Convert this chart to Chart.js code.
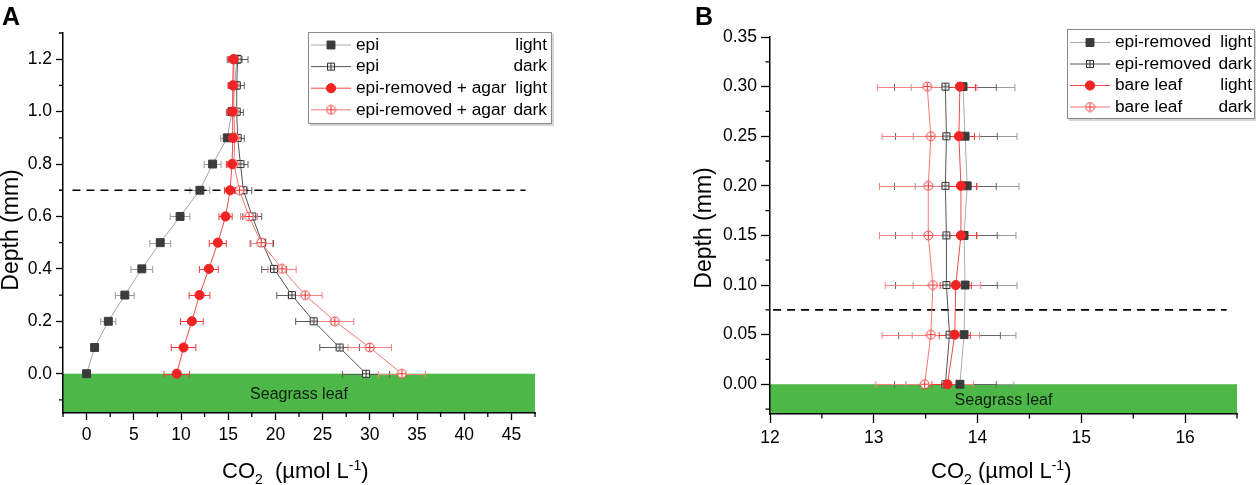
<!DOCTYPE html>
<html>
<head>
<meta charset="utf-8">
<script src="https://cdn.jsdelivr.net/npm/chart.js@4.4.0/dist/chart.umd.min.js"></script>
<style>
  html, body { margin: 0; padding: 0; background: #fff; }
  body { width: 1256px; height: 485px; position: relative; overflow: hidden; }
  canvas { position: absolute; top: 0; }
  #chartA { left: 0; }
  #chartB { left: 690px; }
</style>
</head>
<body>
<canvas id="chartA" width="560" height="485"></canvas>
<canvas id="chartB" width="566" height="485"></canvas>
<script>
// ─────────────────────────────────────────────
//  DATA
// ─────────────────────────────────────────────

// Panel A – depth above the leaf surface (mm)
const depthA        = [0, 0.1, 0.2, 0.3, 0.4, 0.5, 0.6, 0.7, 0.8, 0.9, 1.0, 1.1, 1.2];
const epiLight      = [0.0, 0.85, 2.3, 4.05, 5.85, 7.8, 9.9, 12.0, 13.35, 14.9, 15.4, 15.7, 15.9];
const epiLightErr   = [0.2, 0.3, 0.8, 1.0, 1.15, 1.1, 1.05, 1.05, 0.9, 0.7, 0.6, 0.6, 0.6];
const epiDark       = [29.6, 26.8, 24.05, 21.75, 19.85, 18.6, 17.55, 16.6, 16.3, 16.0, 15.9, 15.9, 16.0];
const epiDarkErr    = [2.5, 2.1, 1.9, 1.6, 1.3, 1.2, 1.0, 0.9, 0.8, 0.7, 0.7, 0.8, 1.1];
const agarLight     = [9.55, 10.27, 11.15, 11.96, 12.95, 13.9, 14.72, 15.2, 15.4, 15.5, 15.45, 15.5, 15.55];
const agarLightErr  = [1.35, 1.3, 1.2, 1.1, 1.0, 0.9, 0.7, 0.6, 0.6, 0.6, 0.6, 0.5, 0.5];
const agarDark      = [33.4, 30.0, 26.3, 23.15, 20.7, 18.5, 17.2, 16.2, 15.6, 15.7, 15.6, 15.6, 15.6];
const agarDarkErr   = [2.5, 2.3, 2.0, 1.8, 1.5, 1.2, 0.9, 0.8, 0.7, 0.6, 0.6, 0.6, 0.6];
const boundaryA     = 0.7;
const boundaryXA    = [-1.5, 46.5];
const xTicksA       = [0, 5, 10, 15, 20, 25, 30, 35, 40, 45];
const xMinorA       = [-2.5, 2.5, 7.5, 12.5, 17.5, 22.5, 27.5, 32.5, 37.5, 42.5, 47.5];
const yTicksA       = [0, 0.2, 0.4, 0.6, 0.8, 1.0, 1.2];
const yMinorA       = [-0.1, 0.1, 0.3, 0.5, 0.7, 0.9, 1.1, 1.3];
const legendNamesA  = ['epi', 'epi', 'epi-removed + agar', 'epi-removed + agar'];
const legendStatesA = ['light', 'dark', 'light', 'dark'];

// Panel B – depth above the leaf surface (mm)
const depthB        = [0, 0.05, 0.10, 0.15, 0.20, 0.25, 0.30];
const remLight      = [13.83, 13.87, 13.88, 13.87, 13.90, 13.88, 13.86];
const remLightErr   = [0.52, 0.5, 0.5, 0.5, 0.5, 0.5, 0.5];
const remDark       = [13.69, 13.73, 13.70, 13.70, 13.69, 13.70, 13.69];
const remDarkErr    = [0.49, 0.49, 0.49, 0.49, 0.49, 0.49, 0.49];
const bareLight     = [13.71, 13.78, 13.79, 13.84, 13.84, 13.82, 13.83];
const bareLightErr  = [0.15, 0.15, 0.15, 0.15, 0.15, 0.15, 0.15];
const bareDark      = [13.49, 13.55, 13.57, 13.525, 13.525, 13.55, 13.515];
const bareDarkErr   = [0.47, 0.47, 0.46, 0.47, 0.47, 0.47, 0.48];
const boundaryB     = 0.075;
const boundaryXB    = [12.03, 16.4];
const xTicksB       = [12, 13, 14, 15, 16];
const xMinorB       = [12.5, 13.5, 14.5, 15.5, 16.5];
const yTicksB       = [0, 0.05, 0.10, 0.15, 0.20, 0.25, 0.30, 0.35];
const yMinorB       = [-0.025, 0.025, 0.075, 0.125, 0.175, 0.225, 0.275, 0.325];
const legendNamesB  = ['epi-removed', 'epi-removed', 'bare leaf', 'bare leaf'];
const legendStatesB = ['light', 'dark', 'light', 'dark'];

// ─────────────────────────────────────────────
//  STYLE HELPERS
// ─────────────────────────────────────────────

const FONT       = '"Liberation Sans", Arial, Helvetica, sans-serif';
const LEAF_GREEN = '#4db848';
const GREY_DARK  = '#3b3b3b';
const RED        = '#f02424';

// open square / circle with a "+" inside (Origin style markers)
function crossMarker(shape, color) {
  const c = document.createElement('canvas');
  c.width = c.height = shape === 'square' ? 10 : 11;
  const g = c.getContext('2d');
  const m = c.width / 2;
  g.strokeStyle = color;
  g.fillStyle = '#fff';
  g.lineWidth = 1;
  g.beginPath();
  if (shape === 'square') g.rect(1.5, 1.5, 7, 7);
  else g.arc(m, m, 4.4, 0, Math.PI * 2);
  g.fill();
  g.stroke();
  g.beginPath();
  g.moveTo(m, 2); g.lineTo(m, c.height - 2);
  g.moveTo(2, m); g.lineTo(c.width - 2, m);
  g.stroke();
  return c;
}

function pts(xs, ys) { return xs.map((v, i) => ({ x: v, y: ys[i] })); }

function series(label, xs, ys, errs, st) {
  return {
    label,
    data: pts(xs, ys),
    errors: errs,
    errorColor: st.err,
    showLine: true,
    tension: 0,
    borderColor: st.line,
    borderWidth: 1,
    pointStyle: st.marker,
    pointRadius: st.radius,
    pointBackgroundColor: st.fill,
    pointBorderColor: st.stroke,
    pointBorderWidth: 1,
    order: st.order
  };
}

function boundary(xs, yv) {
  return {
    label: 'boundary',
    data: xs.map(v => ({ x: v, y: yv })),
    showLine: true,
    borderColor: '#000',
    borderWidth: 1.7,
    borderDash: [8, 6],
    pointRadius: 0,
    order: 10
  };
}

function axisX(min, max, ticks, fmt, tickLen, pad, height) {
  return {
    type: 'linear', position: 'bottom', min, max,
    afterBuildTicks: s => { s.ticks = ticks.map(v => ({ value: v })); },
    afterFit: s => { s.height = height; },
    grid: { display: true, drawOnChartArea: false, drawTicks: true, tickLength: tickLen, tickColor: '#000', tickWidth: 1.3 },
    border: { display: true, color: '#000', width: 1.5 },
    ticks: { color: '#000', padding: pad, maxRotation: 0, autoSkip: false, font: { family: FONT, size: 17.5 }, callback: fmt }
  };
}

function axisY(min, max, ticks, fmt, tickLen, pad, width) {
  return {
    type: 'linear', position: 'left', min, max,
    afterBuildTicks: s => { s.ticks = ticks.map(v => ({ value: v })); },
    afterFit: s => { s.width = width; },
    grid: { display: true, drawOnChartArea: false, drawTicks: true, tickLength: tickLen, tickColor: '#000', tickWidth: 1.3 },
    border: { display: true, color: '#000', width: 1.5 },
    ticks: { color: '#000', padding: pad, autoSkip: false, font: { family: FONT, size: 17.5 }, callback: fmt }
  };
}

// leaf band, error bars, minor ticks, titles and the boxed legend
function makeDecor(cfg) {
  return {
    id: 'decor',
    beforeDraw(chart) {
      const { ctx, chartArea: a, scales: { y } } = chart;
      const top = y.getPixelForValue(0);
      ctx.save();
      ctx.fillStyle = LEAF_GREEN;
      ctx.fillRect(a.left, top, a.right - a.left, a.bottom - top);
      ctx.fillStyle = '#0d1f0d';
      ctx.font = '16px ' + FONT;
      ctx.textAlign = 'center';
      ctx.textBaseline = 'middle';
      ctx.fillText('Seagrass leaf', (a.left + a.right) / 2, (top + a.bottom) / 2 + cfg.leafDy);
      ctx.restore();
    },
    beforeDatasetsDraw(chart) {
      const { ctx, scales: { x, y } } = chart;
      chart.data.datasets.slice().sort((p, q) => q.order - p.order).forEach(ds => {
        if (!ds.errors) return;
        ctx.save();
        ctx.strokeStyle = ds.errorColor;
        ctx.lineWidth = 1;
        ds.data.forEach((p, j) => {
          const e = ds.errors[j];
          const py = Math.round(y.getPixelForValue(p.y)) + 0.5;
          const x1 = x.getPixelForValue(p.x - e), x2 = x.getPixelForValue(p.x + e);
          ctx.beginPath();
          ctx.moveTo(x1, py); ctx.lineTo(x2, py);
          ctx.moveTo(x1, py - 3.5); ctx.lineTo(x1, py + 3.5);
          ctx.moveTo(x2, py - 3.5); ctx.lineTo(x2, py + 3.5);
          ctx.stroke();
        });
        ctx.restore();
      });
    },
    afterDraw(chart) {
      const { ctx, chartArea: a, scales: { x, y } } = chart;
      ctx.save();
      // minor ticks
      ctx.strokeStyle = '#000';
      ctx.lineWidth = 1.3;
      ctx.beginPath();
      cfg.xMinor.forEach(v => {
        const px = x.getPixelForValue(v);
        ctx.moveTo(px, a.bottom); ctx.lineTo(px, a.bottom + cfg.minorLen);
      });
      cfg.yMinor.forEach(v => {
        const py = y.getPixelForValue(v);
        ctx.moveTo(a.left - cfg.minorLen, py); ctx.lineTo(a.left, py);
      });
      ctx.stroke();

      // panel letter
      ctx.fillStyle = '#000';
      ctx.font = 'bold 25px ' + FONT;
      ctx.textAlign = 'left';
      ctx.textBaseline = 'alphabetic';
      ctx.fillText(cfg.letter, cfg.letterX, 25);

      // y title
      ctx.save();
      ctx.translate(cfg.yTitleX, cfg.yTitleY);
      ctx.rotate(-Math.PI / 2);
      ctx.font = '23px ' + FONT;
      ctx.textAlign = 'center';
      ctx.textBaseline = 'middle';
      ctx.fillText('Depth (mm)', 0, 0);
      ctx.restore();

      // x title with sub/superscript
      const big = '22px ' + FONT, small = '14px ' + FONT;
      const parts = [['CO', big, 0], ['2', small, 6], [cfg.gap + '(µmol L', big, 0], ['-1', small, -8], [')', big, 0]];
      let tx = cfg.xTitleX;
      parts.forEach(([t, f, dy]) => {
        ctx.font = f;
        ctx.fillText(t, tx, 478 + dy);
        tx += ctx.measureText(t).width;
      });

      // legend
      const L = cfg.legend;
      ctx.fillStyle = '#d6d6d6';
      ctx.fillRect(L.x + 2, L.y + 2, L.w, L.h);
      ctx.fillStyle = '#fff';
      ctx.fillRect(L.x, L.y, L.w, L.h);
      ctx.strokeStyle = '#8a8a8a';
      ctx.lineWidth = 1;
      ctx.strokeRect(L.x + 0.5, L.y + 0.5, L.w - 1, L.h - 1);
      ctx.font = '17.3px ' + FONT;
      ctx.textBaseline = 'middle';
      const rows = chart.data.datasets.filter(d => d.errors);
      rows.forEach((ds, i) => {
        const cy = L.y + L.first + i * L.step;
        ctx.strokeStyle = ds.borderColor;
        ctx.lineWidth = 1;
        ctx.beginPath();
        ctx.moveTo(L.x + 3, cy); ctx.lineTo(L.x + 43, cy);
        ctx.stroke();
        ctx.fillStyle = ds.pointBackgroundColor;
        ctx.strokeStyle = ds.pointBorderColor;
        Chart.helpers.drawPoint(ctx, { pointStyle: ds.pointStyle, radius: ds.pointRadius, borderWidth: 1, rotation: 0 }, L.x + 23, cy);
        ctx.fillStyle = '#000';
        ctx.textAlign = 'left';
        ctx.fillText(cfg.names[i], L.x + 48, cy);
        ctx.textAlign = 'right';
        ctx.fillText(cfg.states[i], L.x + L.textRight, cy);
      });
      ctx.restore();
    }
  };
}

function buildChart(id, datasets, scales, padding, decor) {
  return new Chart(document.getElementById(id), {
    type: 'scatter',
    data: { datasets },
    options: {
      responsive: false,
      animation: false,
      events: [],
      layout: { padding },
      plugins: { legend: { display: false }, tooltip: { enabled: false } },
      scales
    },
    plugins: [makeDecor(decor)]
  });
}

// ─────────────────────────────────────────────
//  PANEL A
// ─────────────────────────────────────────────

const sqCrossGrey  = crossMarker('square', '#2e2e2e');
const ciCrossRed   = crossMarker('circle', '#f03030');

buildChart('chartA', [
  boundary(boundaryXA, boundaryA),
  series('epi light', epiLight, depthA, epiLightErr,
    { line: '#a8a8a8', err: '#9c9c9c', marker: 'rect', radius: 5.6, fill: GREY_DARK, stroke: GREY_DARK, order: 4 }),
  series('epi dark', epiDark, depthA, epiDarkErr,
    { line: '#555', err: '#5c5c5c', marker: sqCrossGrey, radius: 5, fill: '#fff', stroke: '#2e2e2e', order: 3 }),
  series('epi-removed + agar light', agarLight, depthA, agarLightErr,
    { line: '#f24848', err: '#ee3a3a', marker: 'circle', radius: 4.6, fill: RED, stroke: RED, order: 1 }),
  series('epi-removed + agar dark', agarDark, depthA, agarDarkErr,
    { line: '#f57878', err: '#f58080', marker: ciCrossRed, radius: 5, fill: '#fff', stroke: '#f03030', order: 2 })
], {
  x: axisX(-2.5, 47.5, xTicksA, v => String(v), 7, 5, 72),
  y: axisY(-0.15, 1.3, yTicksA, v => v.toFixed(1), 7, 4, 63)
}, { top: 33, right: 25, left: 0, bottom: 0 }, {
  leafDy: 1.5, xMinor: xMinorA, yMinor: yMinorA, minorLen: 4,
  letter: 'A', letterX: 2, yTitleX: 12, yTitleY: 230, xTitleX: 222, gap: '  ',
  names: legendNamesA, states: legendStatesA,
  legend: { x: 308, y: 32, w: 244, h: 92, first: 13, step: 21.6, textRight: 239 }
});

// ─────────────────────────────────────────────
//  PANEL B
// ─────────────────────────────────────────────

buildChart('chartB', [
  boundary(boundaryXB, boundaryB),
  series('epi-removed light', remLight, depthB, remLightErr,
    { line: '#ababab', err: '#9c9c9c', marker: 'rect', radius: 5.6, fill: GREY_DARK, stroke: GREY_DARK, order: 4 }),
  series('epi-removed dark', remDark, depthB, remDarkErr,
    { line: '#555', err: '#666', marker: sqCrossGrey, radius: 5, fill: '#fff', stroke: '#2e2e2e', order: 3 }),
  series('bare leaf light', bareLight, depthB, bareLightErr,
    { line: '#f24848', err: '#ee3a3a', marker: 'circle', radius: 4.6, fill: RED, stroke: RED, order: 1 }),
  series('bare leaf dark', bareDark, depthB, bareDarkErr,
    { line: '#f57878', err: '#f58080', marker: ciCrossRed, radius: 5, fill: '#fff', stroke: '#f03030', order: 2 })
], {
  x: axisX(12, 16.5, xTicksB, v => String(v), 9, 5, 71),
  y: axisY(-0.03, 0.35, yTicksB, v => v.toFixed(2), 9, 4, 80)
}, { top: 37, right: 19, left: 0, bottom: 0 }, {
  leafDy: 1.5, xMinor: xMinorB, yMinor: yMinorB, minorLen: 4.5,
  letter: 'B', letterX: 5, yTitleX: 15, yTitleY: 228, xTitleX: 241, gap: ' ',
  names: legendNamesB, states: legendStatesB,
  legend: { x: 377, y: 29, w: 188, h: 90, first: 13.5, step: 21.5, textRight: 185 }
});
</script>
</body>
</html>
